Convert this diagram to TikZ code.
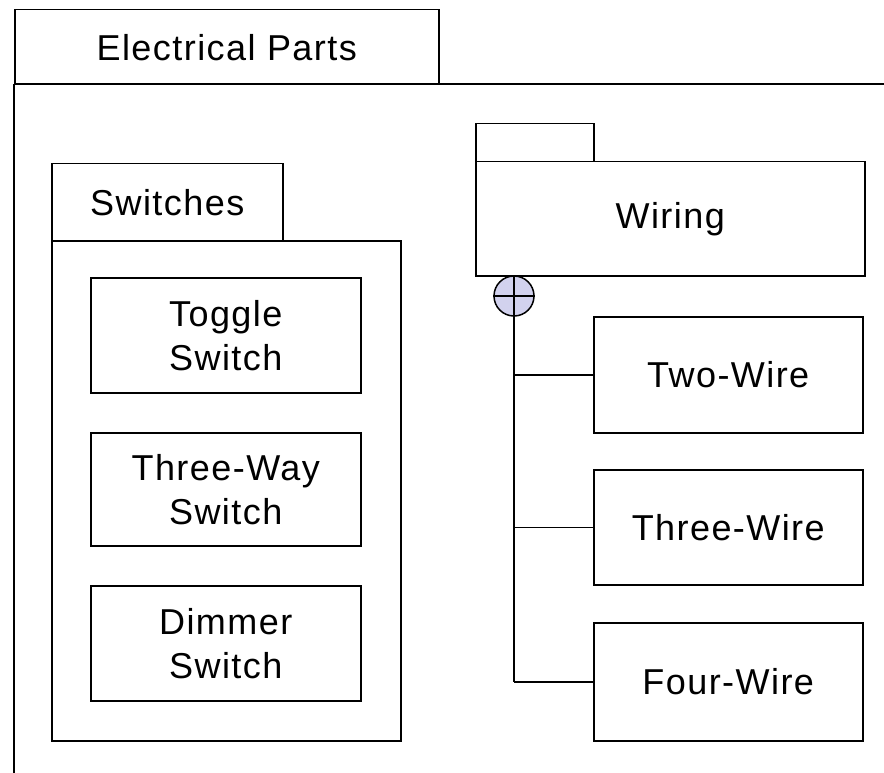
\documentclass[tikz,border=0pt]{standalone}
\usepackage{fontspec}
\setmainfont[LetterSpace=4]{Liberation Sans}
\begin{document}
\begin{tikzpicture}[x=1pt,y=-1pt,
  line width=1.5pt,
  box/.style={draw, anchor=north west, inner sep=0pt, font=\fontsize{36}{44}\selectfont, align=center},
]
\useasboundingbox (0,0) rectangle (884,773);
% outer package
\node[box, minimum width=424pt, minimum height=75pt] (eptab) at (14,9) {Electrical Parts};
\draw (14,84) -- (884,84);
\draw (14,84) -- (14,773);
% Switches package
\node[box, minimum width=231pt, minimum height=77pt] (swtab) at (51,163) {Switches};
\node[box, minimum width=349pt, minimum height=500pt] (swbody) at (51,240) {};
\node[box, minimum width=270pt, minimum height=115pt] (toggle) at (90,277) {Toggle\\Switch};
\node[box, minimum width=270pt, minimum height=113pt] (threeway) at (90,432) {Three-Way\\Switch};
\node[box, minimum width=270pt, minimum height=115pt] (dimmer) at (90,585) {Dimmer\\Switch};
% Wiring package
\node[box, minimum width=118pt, minimum height=38pt] (wtab) at (475,123) {};
\node[box, minimum width=389pt, minimum height=114pt] (wiring) at (475,161) {Wiring};
\node[box, minimum width=269pt, minimum height=116pt] (two) at (593,316) {Two-Wire};
\node[box, minimum width=269pt, minimum height=115pt] (three) at (593,469) {Three-Wire};
\node[box, minimum width=269pt, minimum height=118pt] (four) at (593,622) {Four-Wire};
% containment symbol
\node[circle, draw, fill={rgb,255:red,210;green,210;blue,238}, minimum size=40pt, inner sep=0pt] (circ) at (514,296) {};
\draw (circ.north) -- (circ.south);
\draw (circ.west) -- (circ.east);
\draw (circ.south) -- (circ |- four.west);
\draw (circ |- two.west) -- (two.west);
\draw (circ |- three.west) -- (three.west);
\draw (circ |- four.west) -- (four.west);
\end{tikzpicture}
\end{document}
